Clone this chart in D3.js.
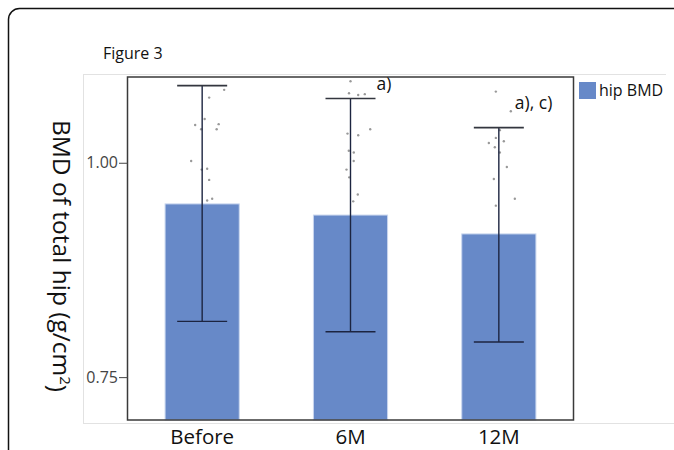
<!doctype html>
<html>

<head>
    <style>
        body { margin: 0; background: #fff; }
        text { font-family: "Open Sans", sans-serif; }
    </style>
    <script src="https://d3js.org/d3.v7.min.js"></script>
</head>

<body>
    <svg width="674" height="450"></svg>
    <script>
        var categories = ["Before", "6M", "12M"]
        var means = [0.952, 0.939, 0.917]
        var upper = [1.090, 1.075, 1.041]
        var lower = [0.815, 0.803, 0.791]
        var notes = ["", "a)", "a), c)"]
        var yTicks = [0.75, 1.00]

        // individual points: value and horizontal offset (px) from the bar centre
        var pointValues = [
            [1.085, 1.076, 1.051, 1.044, 1.045, 1.039, 1.039, 1.002, 0.993, 0.992, 0.980, 0.958, 0.956],
            [1.095, 1.081, 1.079, 1.080, 1.034, 1.032, 1.039, 1.014, 1.012, 1.002, 0.992, 0.983, 0.963, 0.955],
            [1.083, 1.060, 1.038, 1.029, 1.023, 1.025, 1.018, 1.012, 0.995, 0.981, 0.958, 0.950]
        ]
        var pointOffsets = [
            [22, 7, 2.5, -7, 16.5, 14.5, -1, -11, 5, -0.5, 7, 10, 5],
            [0, -1.5, 7.7, 14.3, -3, 7.7, 19.7, -1.7, 3.3, 3.2, -4, -1.3, 7.3, 2.7],
            [-3, 12, 1, -3, -10, 5, -4, 1, 8, -5, 16, -3]
        ]

        var svg = d3.select("svg"),
            margin = { top: 77, right: 101, bottom: 30, left: 128 },
            width = 674 - margin.left - margin.right,
            height = 420 - margin.top

        // outer card border
        svg.append("rect")
            .attr("x", 8.5).attr("y", 8.5)
            .attr("width", 720).attr("height", 520)
            .attr("rx", 11)
            .attr("fill", "none")
            .attr("stroke", "#111")
            .attr("stroke-width", 1.5);

        svg.append("text")
            .attr("x", 103).attr("y", 59)
            .style("font-size", "16px")
            .attr("fill", "#111")
            .text("Figure 3");

        // faint panel guide lines
        svg.append("path")
            .attr("d", "M83,74.5H666M83.5,74.5V423M83,423.5H674")
            .attr("fill", "none")
            .attr("stroke", "#e2e2e2")
            .attr("stroke-width", 1);

        var xScale = d3.scaleBand().domain(categories).range([0, width])
            .paddingInner(0.5).paddingOuter(0.25),
            yScale = d3.scaleLinear().domain([0.70, 1.10]).range([height, 0]);

        var g = svg.append("g")
            .attr("transform", "translate(" + margin.left + "," + margin.top + ")");

        g.selectAll(".bar")
            .data(means)
            .enter().append("rect")
            .attr("class", "bar")
            .attr("x", function (d, i) { return xScale(categories[i]); })
            .attr("y", function (d) { return yScale(d); })
            .attr("width", xScale.bandwidth())
            .attr("height", function (d) { return height - yScale(d); })
            .attr("fill", "#6789c8")
            .attr("stroke", "#c9d6ee")
            .attr("stroke-width", 1);

        // scatter points
        categories.forEach(function (c, i) {
            var cx = xScale(c) + xScale.bandwidth() / 2;
            g.selectAll(".pt" + i)
                .data(pointValues[i])
                .enter().append("circle")
                .attr("cx", function (d, j) { return cx + pointOffsets[i][j]; })
                .attr("cy", function (d) { return yScale(d); })
                .attr("r", 1.2)
                .attr("fill", "#999");
        });

        // error bars
        var capHalf = 25;
        var eb = g.selectAll(".err")
            .data(categories)
            .enter().append("g")
            .attr("transform", function (d) { return "translate(" + (xScale(d) + xScale.bandwidth() / 2) + ",0)"; });
        eb.append("line")
            .attr("y1", function (d, i) { return yScale(upper[i]); })
            .attr("y2", function (d, i) { return yScale(lower[i]); })
            .attr("stroke", "#1c2440").attr("stroke-width", 1.4);
        eb.append("line")
            .attr("x1", -capHalf).attr("x2", capHalf)
            .attr("y1", function (d, i) { return yScale(upper[i]); })
            .attr("y2", function (d, i) { return yScale(upper[i]); })
            .attr("stroke", "#33363f").attr("stroke-width", 1.6);
        eb.append("line")
            .attr("x1", -capHalf).attr("x2", capHalf)
            .attr("y1", function (d, i) { return yScale(lower[i]); })
            .attr("y2", function (d, i) { return yScale(lower[i]); })
            .attr("stroke", "#1c2440").attr("stroke-width", 1.4);

        // significance notes
        g.selectAll(".note")
            .data(notes)
            .enter().append("text")
            .attr("x", function (d, i) { return xScale(categories[i]) + xScale.bandwidth() / 2 + [0, 26, 16][i]; })
            .attr("y", function (d, i) { return [0, 13, 32][i]; })
            .style("font-size", "17.5px")
            .attr("fill", "#111")
            .text(function (d) { return d; });

        // plot frame
        g.append("rect")
            .attr("x", -0.5).attr("y", 0)
            .attr("width", width + 1).attr("height", height)
            .attr("fill", "none")
            .attr("stroke", "#3a3a3a")
            .attr("stroke-width", 1.5);

        // y axis
        var yAxis = g.append("g")
            .call(d3.axisLeft(yScale).tickValues(yTicks).tickFormat(d3.format(".2f"))
                .tickSize(9).tickSizeOuter(0));
        yAxis.select(".domain").remove();
        yAxis.selectAll("line").attr("stroke", "#444");
        yAxis.selectAll("text")
            .style("font-size", "16px")
            .attr("fill", "#444")
            .attr("x", -10);

        // x axis labels
        var xAxis = g.append("g")
            .attr("transform", "translate(0," + height + ")")
            .call(d3.axisBottom(xScale).tickSize(0));
        xAxis.select(".domain").remove();
        xAxis.selectAll("text")
            .style("font-size", "20.5px")
            .attr("fill", "#111")
            .attr("dy", "1.0em");

        // Y axis label (reads top to bottom)
        var yl = svg.append("text")
            .attr("transform", "translate(53,256) rotate(90)")
            .style("text-anchor", "middle")
            .style("font-size", "24.5px")
            .attr("fill", "#111");
        yl.append("tspan").text("BMD of total hip (g/cm");
        yl.append("tspan").attr("dy", "-0.45em").style("font-size", "15px").text("2");
        yl.append("tspan").attr("dy", "0.45em").text(")");

        // legend
        var lg = svg.append("g").attr("transform", "translate(579,82)");
        lg.append("rect").attr("width", 17).attr("height", 17).attr("fill", "#6789c8");
        lg.append("text").attr("x", 20).attr("y", 14)
            .style("font-size", "16px").attr("fill", "#111").text("hip BMD");
    </script>
</body>

</html>
